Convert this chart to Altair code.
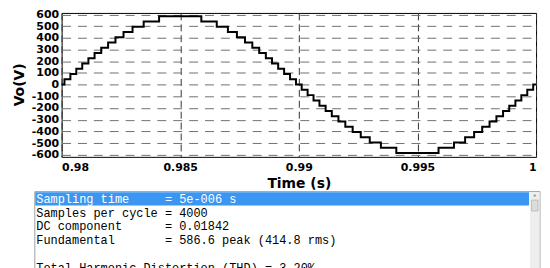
import altair as alt
import pandas as pd

# Staircase output voltage: time of each level change (s) and the level held from then on (V)
step_t = [0.98, 0.98012, 0.98037, 0.98062, 0.98087, 0.98113, 0.98139, 0.98167, 0.98196,
          0.98227, 0.98261, 0.98299, 0.98346, 0.98411,
          0.98589, 0.98654, 0.98701, 0.98739, 0.98773, 0.98804, 0.98833, 0.98861, 0.98887,
          0.98913, 0.98938, 0.98963, 0.98988,
          0.99012, 0.99037, 0.99062, 0.99087, 0.99113, 0.99139, 0.99167, 0.99196,
          0.99227, 0.99261, 0.99299, 0.99346, 0.99411,
          0.99589, 0.99654, 0.99701, 0.99739, 0.99773, 0.99804, 0.99833, 0.99861, 0.99887,
          0.99913, 0.99938, 0.99963, 0.99988, 1.0]
step_v = [0, 45, 90, 135, 180, 225, 270, 315, 360, 405, 450, 495, 540, 585,
          540, 495, 450, 405, 360, 315, 270, 225, 180, 135, 90, 45, 0,
          -45, -90, -135, -180, -225, -270, -315, -360, -405, -450, -495, -540, -585,
          -540, -495, -450, -405, -360, -315, -270, -225, -180, -135, -90, -45, 0, 0]

x_ticks = [0.98, 0.985, 0.99, 0.995, 1.0]
y_ticks = [-600, -500, -400, -300, -200, -100, 0, 100, 200, 300, 400, 500, 600]

panel_rows = [0, 1, 2, 3, 4, 5]
panel_lines = ["Sampling time     = 5e-006 s",
               "Samples per cycle = 4000",
               "DC component      = 0.01842",
               "Fundamental       = 586.6 peak (414.8 rms)",
               "",
               "Total Harmonic Distortion (THD) = 3.20%"]
panel_colors = ["white", "black", "black", "black", "black", "black"]

wave_df = pd.DataFrame({"t": step_t, "v": step_v})
panel_df = pd.DataFrame({
    "row": panel_rows,
    "txt": [s.replace(" ", "\u00a0") for s in panel_lines],
    "col": panel_colors,
})
one = pd.DataFrame({"a": [0]})

wave = alt.Chart(wave_df).mark_line(
    interpolate="step-after", color="black", strokeWidth=2
).encode(
    x=alt.X("t:Q",
            scale=alt.Scale(domain=[0.98, 1.0], nice=False, zero=False),
            axis=alt.Axis(values=x_ticks, title="Time (s)", labelExpr="'' + datum.value",
                          grid=True, gridDash=[7, 4], gridColor="#333333", gridWidth=1,
                          domain=False, ticks=False, labelPadding=5,
                          titleY=27, titleBaseline="middle")),
    y=alt.Y("v:Q",
            scale=alt.Scale(domain=[-618, 613], nice=False, zero=False),
            axis=alt.Axis(values=y_ticks, title="Vo(V)", labelExpr="'' + datum.value",
                          grid=True, gridDash=[9, 7], gridColor="#707070", gridWidth=1,
                          domain=False, ticks=False, labelPadding=3,
                          titleAngle=270, titleX=-42, titleY=72, titleAlign="center",
                          titleBaseline="middle")),
)

box = alt.Chart(one).mark_rect(fill="white", stroke="#a0a0a0", strokeWidth=1).encode(
    x=alt.value(-27), x2=alt.value(482), y=alt.value(180), y2=alt.value(262))
band = alt.Chart(one).mark_rect(fill="#3a96f0").encode(
    x=alt.value(-26.5), x2=alt.value(471), y=alt.value(180.7), y2=alt.value(194))
track = alt.Chart(one).mark_rect(fill="#eeeeee").encode(
    x=alt.value(472), x2=alt.value(481.5), y=alt.value(180.5), y2=alt.value(262))
thumb = alt.Chart(one).mark_rect(fill="#dcdcdc", stroke="#b0b0b0", strokeWidth=0.7).encode(
    x=alt.value(473.5), x2=alt.value(480), y=alt.value(188.5), y2=alt.value(199.5))
arrow = alt.Chart(one).mark_point(shape="triangle-up", filled=True, color="#707070", size=10).encode(
    x=alt.value(476.7), y=alt.value(183.5))

text = alt.Chart(panel_df).mark_text(
    font="Liberation Mono", fontSize=12, align="left", baseline="middle"
).encode(
    x=alt.value(-25.5),
    y=alt.Y("row:Q", scale=alt.Scale(domain=[0, 5], range=[187.5, 256.5]), axis=None),
    text="txt:N",
    color=alt.Color("col:N", scale=None),
)

chart = alt.layer(wave, box, band, track, thumb, arrow, text).resolve_scale(
    y="independent"
).properties(
    width=478, height=145,
    autosize=alt.AutoSizeParams(type="none"),
    padding={"left": 54, "top": 4, "right": 6, "bottom": 111},
).configure_view(
    stroke="black", strokeWidth=1
).configure_axis(
    labelFont="DejaVu Sans", labelFontWeight="bold", labelFontSize=11, labelColor="black",
    titleFont="DejaVu Sans", titleFontWeight="bold", titleFontSize=14, titleColor="black",
)

chart.save("out.html", embed_options={"renderer": "svg", "actions": False})
